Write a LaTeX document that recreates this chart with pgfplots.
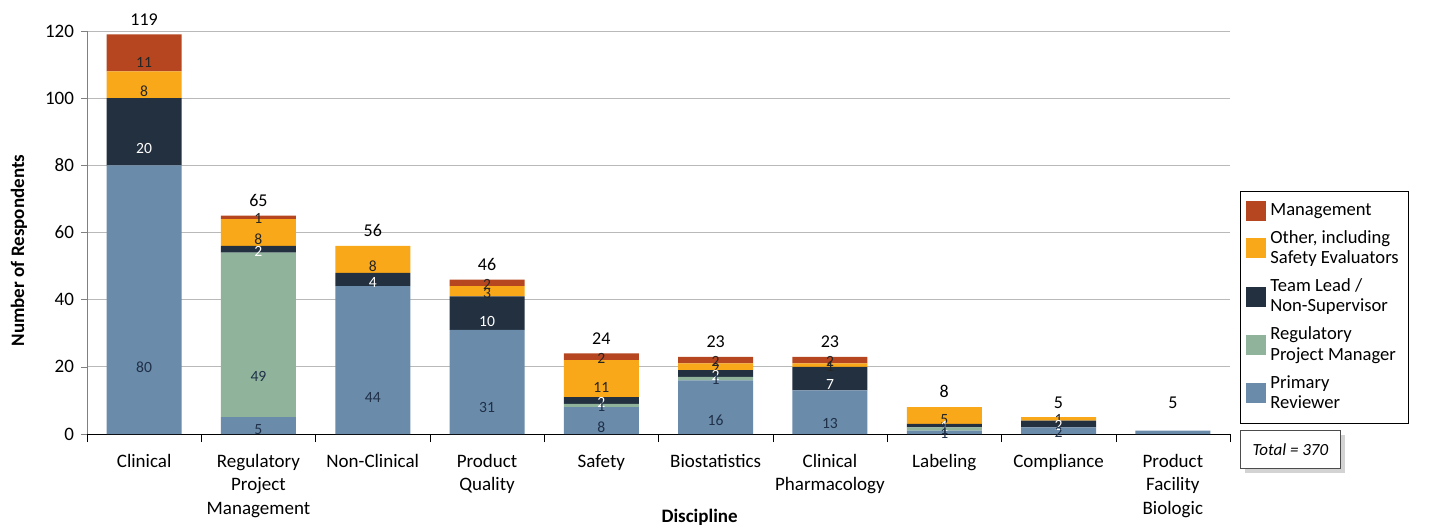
\documentclass[border=0pt]{standalone}
\usepackage{pgfplots}
\pgfplotsset{compat=1.18}
\usepackage{fontspec}
\setmainfont{Carlito}
\usetikzlibrary{shadows}

\definecolor{mgmt}{HTML}{B5461F}
\definecolor{other}{HTML}{F9A81A}
\definecolor{lead}{HTML}{233040}
\definecolor{rpm}{HTML}{8FB49B}
\definecolor{primary}{HTML}{6A8BAA}
\definecolor{labdark}{HTML}{1F3048}

\pgfplotsset{
  chartgeom/.style={
    scale only axis, width=571.5pt, height=201.5pt,
    xmin=-0.5, xmax=9.5, ymin=0, ymax=120,
    /pgf/number format/assume math mode=true,
  },
  seglabels/.style={
    nodes near coords={\pgfmathfloatifflags{\pgfplotspointmeta}{0}{}{\pgfmathprintnumber{\pgfplotspointmeta}}},
    visualization depends on={rawy \as \rawy},
    every node near coord/.append style={anchor=center, yshift=-0.4198pt*\rawy,
      font=\fontsize{7.8}{8.5}\selectfont, text=#1},
  },
}

\begin{document}
\begin{tikzpicture}
\begin{axis}[
  name=main, chartgeom,
  ybar stacked, bar width=37.5pt,
  clip=false,
  axis x line*=bottom, axis y line*=left,
  axis line style={-},
  x axis line style={black},
  y axis line style={gray},
  ytick={0,20,...,120},
  xtick={0,...,9},
  xticklabels={Clinical, Regulatory\\Project\\Management, Non-Clinical, Product\\Quality, Safety, Biostatistics, Clinical\\Pharmacology, Labeling, Compliance, Product\\Facility\\Biologic},
  minor xtick={-0.5,0.5,...,9.5},
  major x tick style={draw=none},
  minor x tick style={black},
  tick align=outside,
  minor tick length=4pt,
  major tick length=3pt,
  y tick style={gray},
  ymajorgrids, grid style={gray!55},
  tick label style={font=\fontsize{9.5}{11.7}\selectfont},
  xticklabel style={align=center, yshift=-3.5pt},
  ylabel={Number of Respondents},
  xlabel={Discipline},
  label style={font=\fontsize{9.5}{11}\selectfont\bfseries},
  ylabel style={at={(axis description cs:-0.0595,0.455)}, anchor=center},
  xlabel style={at={(axis description cs:0.536,-0.208)}, anchor=center},
  reverse legend,
  legend cell align=left,
  legend image code/.code={\fill[#1] (0pt,-5pt) rectangle (10pt,5pt);},
  legend style={at={(1,0.603)}, xshift=5pt, anchor=north west, draw=black,
    font=\fontsize{9.3}{10.2}\selectfont, nodes={align=left},
    row sep=2pt, inner xsep=3pt, inner ysep=4pt},
]
\addplot[fill=primary, draw=none, seglabels=labdark, point meta=explicit] coordinates
  {(0,80)[80] (1,5)[5] (2,44)[44] (3,31)[31] (4,8)[8] (5,16)[16] (6,13)[13] (7,1)[1] (8,2)[2] (9,1)[0]};
\addlegendentry{Primary\\Reviewer}
\addplot[fill=rpm, draw=none, seglabels=labdark] coordinates
  {(0,0) (1,49) (2,0) (3,0) (4,1) (5,1) (6,0) (7,1) (8,0) (9,0)};
\addlegendentry{Regulatory\\Project Manager}
\addplot[fill=lead, draw=none, seglabels=white] coordinates
  {(0,20) (1,2) (2,4) (3,10) (4,2) (5,2) (6,7) (7,1) (8,2) (9,0)};
\addlegendentry{Team Lead /\\Non-Supervisor}
\addplot[fill=other, draw=none, seglabels=black!85] coordinates
  {(0,8) (1,8) (2,8) (3,3) (4,11) (5,2) (6,1) (7,5) (8,1) (9,0)};
\addlegendentry{Other, including\\Safety Evaluators}
\addplot[fill=mgmt, draw=none, seglabels=black!85] coordinates
  {(0,11) (1,1) (2,0) (3,2) (4,2) (5,2) (6,2) (7,0) (8,0) (9,0)};
\addlegendentry{Management}

\node[anchor=north west, xshift=5pt, yshift=2pt, draw=black!70, fill=white,
  drop shadow={opacity=0.35}, minimum width=50pt, minimum height=19pt,
  font=\fontsize{8.5}{10}\selectfont\itshape] at (rel axis cs:1,0) {Total = 370};
\end{axis}

% totals above the bars
\begin{axis}[chartgeom, hide axis]
\addplot[draw=none, mark=none, nodes near coords, point meta=y,
  every node near coord/.append style={font=\fontsize{9}{10}\selectfont, text=black, yshift=1pt}]
  coordinates {(0,119) (1,65) (2,56) (3,46) (4,24) (5,23) (6,23) (7,8) (8,5) (9,5)};
\end{axis}

\pgfresetboundingbox
\path ([shift={(-43.5pt,-48.5pt)}]main.south west) rectangle ([shift={(101pt,15.5pt)}]main.north east);
\end{tikzpicture}
\end{document}
